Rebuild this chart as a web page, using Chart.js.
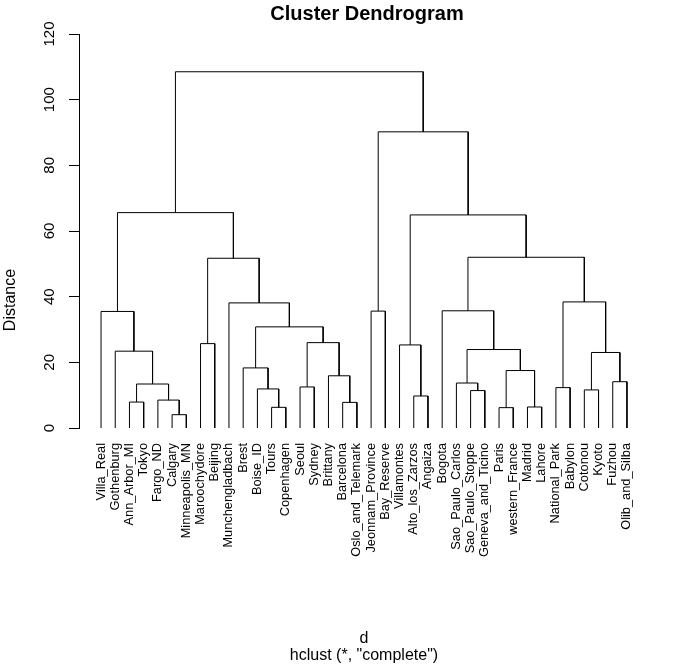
<!DOCTYPE html>
<html><head><meta charset="utf-8">
<script src="https://cdn.jsdelivr.net/npm/chart.js@4.4.1/dist/chart.umd.min.js"></script>
<style>html,body{margin:0;padding:0;background:#fff}#c{display:block}</style>
</head><body>
<canvas id="c" width="700" height="672"></canvas>
<script>
// ---- data ----
const leaves = ["Villa_Real","Gothenburg","Ann_Arbor_MI","Tokyo","Fargo_ND","Calgary","Minneapolis_MN",
  "Maroochydore","Beijing","Munchengladbach","Brest","Boise_ID","Tours","Copenhagen","Seoul","Sydney",
  "Brittany","Barcelona","Oslo_and_Telemark","Jeonnam_Province","Bay_Reserve","Villamontes",
  "Alto_los_Zarzos","Angaiza","Bogota","Sao_Paulo_Carlos","Sao_Paulo_Stoppe","Geneva_and_Ticino",
  "Paris","western_France","Madrid","Lahore","National_Park","Babylon","Cotonou","Kyoto","Fuzhou",
  "Olib_and_Silba"];
// merge table (R hclust style): negative = leaf number, positive = earlier merge row
const mergeLeft   = [-6,-13,-29,-31,-3,-18,-5,-23,-27,-35,-12,-33,-15, 5,-26,-37,-17, 3,-11,10,-2,15,-22,-8,13,19,-1,-20,-25,-10,12,24,29,23,27,28,35];
const mergeRight  = [-7,-14,-30,-32,-4,-19, 1,-24,-28,-36,  2,-34,-16, 7,  9,-38,  6, 4, 11,16,14,18,  8,-9,17,25,21,-21, 22, 26,20,30,31,33,32,34,36];
const mergeHeight = [4.05,6.3,6.2,6.4,7.9,7.8,8.5,9.75,11.4,11.6,11.9,12.3,12.5,13.4,13.7,14.1,15.9,17.5,18.3,
  23.0,23.4,23.9,25.3,25.7,26.0,30.8,35.5,35.6,35.7,38.1,38.4,51.7,52.0,64.9,65.6,90.2,108.5];
const yTicks = [0,20,40,60,80,100,120];
const mainTitle = "Cluster Dendrogram";
const xTitle = ["d", 'hclust (*, "complete")'];
const yTitle = "Distance";

// ---- build segments ----
const FONT = "'Liberation Sans', Arial, Helvetica, sans-serif";
const nodeX = [], nodeH = [];
function nodePos(ref) { return ref < 0 ? {x: -ref, y: 0} : {x: nodeX[ref - 1], y: nodeH[ref - 1]}; }
const datasets = [];
for (let i = 0; i < mergeHeight.length; i++) {
  const a = nodePos(mergeLeft[i]), b = nodePos(mergeRight[i]), h = mergeHeight[i];
  nodeX.push((a.x + b.x) / 2); nodeH.push(h);
  datasets.push({
    data: [{x: a.x, y: a.y}, {x: a.x, y: h}, {x: b.x, y: h}, {x: b.x, y: b.y}],
    showLine: true, borderColor: '#000', borderWidth: 1, pointRadius: 0, pointHoverRadius: 0,
    tension: 0, fill: false
  });
}

const yTitlePlugin = {
  id: 'yTitleText',
  afterDraw(chart) {
    const ctx = chart.ctx, ca = chart.chartArea;
    ctx.save();
    ctx.translate(ca.left - 68, ca.bottom - 128);
    ctx.rotate(-Math.PI / 2);
    ctx.font = '16px ' + FONT;
    ctx.fillStyle = '#000';
    ctx.textAlign = 'center';
    ctx.textBaseline = 'middle';
    ctx.fillText(yTitle, 0, 0);
    ctx.restore();
  }
};

const pad = 1.55;
new Chart(document.getElementById('c'), {
  type: 'scatter',
  data: {datasets},
  plugins: [yTitlePlugin],
  options: {
    responsive: false, animation: false, events: [],
    layout: {padding: {left: 34, right: 0, top: 0, bottom: 0}},
    plugins: {
      legend: {display: false}, tooltip: {enabled: false},
      title: {display: true, text: mainTitle, color: '#000',
        font: {family: FONT, size: 20, weight: 'bold', lineHeight: 1.2},
        padding: {top: 2, bottom: 8}}
    },
    scales: {
      x: {
        type: 'linear', min: 1 - pad, max: leaves.length + pad,
        grid: {display: false}, border: {display: false},
        afterBuildTicks: s => { s.ticks = leaves.map((_, i) => ({value: i + 1})); },
        afterFit: s => { s.height = 244; },
        ticks: {
          autoSkip: false, minRotation: 90, maxRotation: 90, padding: 7, color: '#000',
          font: {family: FONT, size: 12.8},
          callback: v => leaves[Math.round(v) - 1] || ''
        },
        title: {display: true, text: xTitle, color: '#000',
          font: {family: FONT, size: 16, lineHeight: 1.05}, padding: {top: 0, bottom: 8}}
      },
      y: {
        min: yTicks[0], max: yTicks[yTicks.length - 1],
        afterBuildTicks: s => { s.ticks = yTicks.map(v => ({value: v})); },
        afterFit: s => { s.width = 45; },
        grid: {drawOnChartArea: false, drawTicks: true, tickLength: 10, tickColor: '#000', tickWidth: 1},
        border: {display: true, color: '#000', width: 1},
        ticks: {minRotation: 90, maxRotation: 90, crossAlign: 'center', padding: 7, color: '#000',
          font: {family: FONT, size: 15}}
      },
      yRight: {
        position: 'right', min: 0, max: 1,
        afterFit: s => { s.width = 51; },
        grid: {display: false}, border: {display: false}, ticks: {display: false}
      }
    }
  }
});
</script>
</body></html>
